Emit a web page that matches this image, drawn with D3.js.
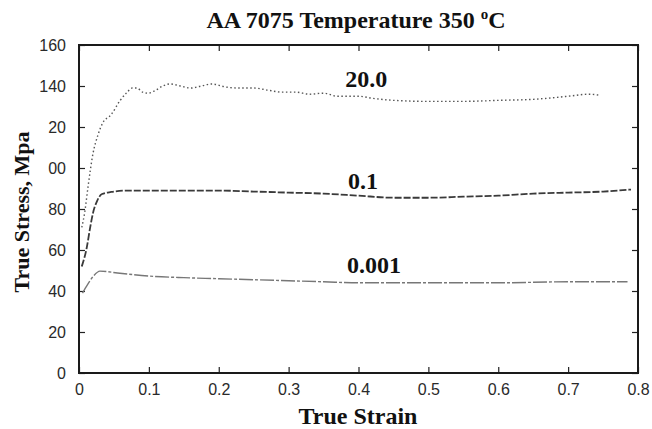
<!DOCTYPE html>
<html>
<head>
<meta charset="utf-8">
<script src="https://cdn.jsdelivr.net/npm/d3@7"></script>
<style>
  body { margin: 0; background: #fff; }
  svg text.serif { font-family: "Liberation Serif", "Times New Roman", serif; font-weight: bold; }
  svg text.tick { font-family: "Liberation Sans", Arial, sans-serif; font-size: 16px; fill: #2a2a2a; }
</style>
</head>
<body>
<div id="chart"></div>
<script>
// strain rate curves: [true strain, true stress]
const rate20 = [
  [0.004, 71], [0.008, 78], [0.013, 91], [0.02, 107], [0.027, 116], [0.034, 122],
  [0.046, 126], [0.059, 133], [0.069, 137], [0.076, 139], [0.083, 139], [0.091, 137],
  [0.099, 136.5], [0.11, 138], [0.12, 140], [0.13, 141], [0.145, 140], [0.16, 139],
  [0.175, 140], [0.19, 141], [0.21, 139.5], [0.23, 139], [0.25, 139], [0.27, 138],
  [0.29, 137], [0.31, 137], [0.33, 136], [0.35, 136.5], [0.37, 135], [0.4, 135],
  [0.42, 134], [0.45, 133], [0.5, 132.5], [0.55, 132.5], [0.6, 133], [0.65, 133.5],
  [0.7, 135], [0.73, 136], [0.745, 135.5]
];
const rate01 = [
  [0.004, 52], [0.011, 61], [0.016, 71], [0.02, 78], [0.026, 84], [0.033, 87.3],
  [0.046, 88.3], [0.07, 89], [0.1, 89], [0.2, 89], [0.25, 88.5], [0.3, 88],
  [0.35, 87.5], [0.4, 86.5], [0.45, 85.5], [0.5, 85.5], [0.55, 86], [0.6, 86.5],
  [0.65, 87.5], [0.7, 88], [0.75, 88.5], [0.79, 89.5]
];
const rate0001 = [
  [0.005, 39], [0.012, 43], [0.02, 47], [0.03, 49.7], [0.055, 48.8], [0.1, 47.3],
  [0.15, 46.5], [0.2, 46], [0.25, 45.5], [0.3, 45], [0.35, 44.5], [0.4, 44],
  [0.5, 44], [0.6, 44], [0.7, 44.5], [0.785, 44.5]
];
const xTicks = [0, 0.1, 0.2, 0.3, 0.4, 0.5, 0.6, 0.7, 0.8];
const xTickLabels = ["0", "0.1", "0.2", "0.3", "0.4", "0.5", "0.6", "0.7", "0.8"];
const yTicks = [0, 20, 40, 60, 80, 100, 120, 140, 160];
const yTickLabels = ["0", "20", "40", "60", "80", "00", "20", "140", "160"];
const curveLabels = [
  { text: "20.0", x: 0.381, y: 139.5 },
  { text: "0.1", x: 0.385, y: 89.8 },
  { text: "0.001", x: 0.3835, y: 48.8 }
];

const width = 652, height = 429;
const margin = { top: 45, right: 14, bottom: 56, left: 79 };

const svg = d3.select('#chart')
  .append('svg')
  .attr('width', width)
  .attr('height', height);

const x = d3.scaleLinear().domain([0, 0.8]).range([margin.left, width - margin.right]);
const y = d3.scaleLinear().domain([0, 160]).range([height - margin.bottom, margin.top]);

// tick marks pointing inward on all four sides
const tickLen = 6;
svg.append('g')
  .attr('transform', 'translate(0,' + y(0) + ')')
  .call(d3.axisBottom(x).tickValues(xTicks).tickSize(-tickLen).tickPadding(11)
    .tickFormat((d, i) => xTickLabels[i]))
  .call(g => g.select('.domain').remove())
  .call(g => g.selectAll('text').attr('class', 'tick'));
svg.append('g')
  .attr('transform', 'translate(0,' + y(160) + ')')
  .call(d3.axisTop(x).tickValues(xTicks).tickSize(-tickLen).tickFormat(''))
  .call(g => g.select('.domain').remove());
svg.append('g')
  .attr('transform', 'translate(' + x(0) + ',0)')
  .call(d3.axisLeft(y).tickValues(yTicks).tickSize(-tickLen).tickPadding(13)
    .tickFormat((d, i) => yTickLabels[i]))
  .call(g => g.select('.domain').remove())
  .call(g => g.selectAll('text').attr('class', 'tick'));
svg.append('g')
  .attr('transform', 'translate(' + x(0.8) + ',0)')
  .call(d3.axisRight(y).tickValues(yTicks).tickSize(-tickLen).tickFormat(''))
  .call(g => g.select('.domain').remove());
svg.selectAll('.tick line').attr('stroke', '#222').attr('stroke-width', 1.2);

// frame
svg.append('rect')
  .attr('x', x(0)).attr('y', y(160))
  .attr('width', x(0.8) - x(0)).attr('height', y(0) - y(160))
  .attr('fill', 'none').attr('stroke', '#1a1a1a').attr('stroke-width', 2);

const line = d3.line()
  .x(d => x(d[0]))
  .y(d => y(d[1]))
  .curve(d3.curveMonotoneX);

svg.append('path').datum(rate20).attr('d', line)
  .attr('fill', 'none').attr('stroke', '#555').attr('stroke-width', 1.4)
  .attr('stroke-dasharray', '1.5,2.5');
svg.append('path').datum(rate01).attr('d', line)
  .attr('fill', 'none').attr('stroke', '#3a3a3a').attr('stroke-width', 1.8)
  .attr('stroke-dasharray', '7,2');
svg.append('path').datum(rate0001).attr('d', line)
  .attr('fill', 'none').attr('stroke', '#777').attr('stroke-width', 1.4)
  .attr('stroke-dasharray', '14,2,3,2');

svg.selectAll('text.curve')
  .data(curveLabels).enter()
  .append('text')
  .attr('class', 'serif curve')
  .attr('x', d => x(d.x))
  .attr('y', d => y(d.y))
  .attr('font-size', 24)
  .attr('fill', '#111')
  .text(d => d.text);

// title and axis titles
const title = svg.append('text')
  .attr('class', 'serif')
  .attr('x', 356).attr('y', 28)
  .attr('text-anchor', 'middle')
  .attr('font-size', 24)
  .attr('fill', '#111');
title.append('tspan').text('AA 7075 Temperature 350 ');
title.append('tspan').attr('font-size', 15).attr('dy', -9).text('o');
title.append('tspan').attr('dy', 9).text('C');

svg.append('text')
  .attr('class', 'serif')
  .attr('x', 358).attr('y', 424)
  .attr('text-anchor', 'middle')
  .attr('font-size', 24)
  .attr('fill', '#111')
  .text('True Strain');

svg.append('text')
  .attr('class', 'serif')
  .attr('transform', 'translate(29,212)rotate(-90)')
  .attr('text-anchor', 'middle')
  .attr('font-size', 22)
  .attr('fill', '#111')
  .text('True Stress, Mpa');
</script>
</body>
</html>
